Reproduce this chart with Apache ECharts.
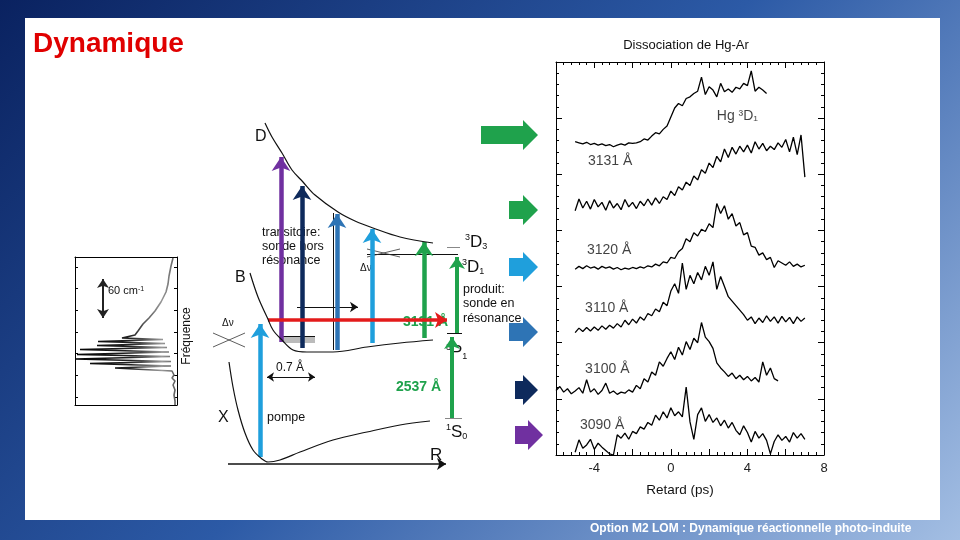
<!DOCTYPE html>
<html>
<head>
<meta charset="UTF-8">
<title>Dynamique</title>
<style>
  html, body { margin: 0; padding: 0; }
  body { width: 960px; height: 540px; background: linear-gradient(135deg, #0a2260 0%, #2c5aa6 50%, #a3bee3 100%); }
  #main { width: 960px; height: 540px; }
</style>
<script src="https://cdn.jsdelivr.net/npm/echarts@6/dist/echarts.min.js"></script>
</head>
<body>
<div id="main"></div>
<script>
// retard (ps) : grille commune des traces
var retard = [-6.0,-5.8,-5.6,-5.4,-5.2,-5.0,-4.8,-4.6,-4.4,-4.2,-4.0,-3.8,-3.6,-3.4,-3.2,-3.0,-2.8,-2.6,-2.4,-2.2,-2.0,-1.8,-1.6,-1.4,-1.2,-1.0,-0.8,-0.6,-0.4,-0.2,
  0.0,0.2,0.4,0.6,0.8,1.0,1.2,1.4,1.6,1.8,2.0,2.2,2.4,2.6,2.8,3.0,3.2,3.4,3.6,3.8,4.0,4.2,4.4,4.6,4.8,5.0,5.2,5.4,5.6,5.8,6.0,6.2,6.4,6.6,6.8,7.0];

// signaux (décalés verticalement)
var hgD1 = [null,null,null,null,null,
  5.58,5.56,5.54,5.57,5.53,5.55,5.52,5.54,5.51,5.53,5.49,5.52,5.54,5.52,5.56,5.55,5.56,5.58,5.63,5.61,5.68,5.74,5.72,5.80,5.86,
  6.02,6.18,6.26,6.22,6.35,6.38,6.44,6.48,6.73,6.42,6.56,6.50,6.38,6.62,6.47,6.52,6.46,6.55,6.52,6.62,6.58,6.84,6.48,6.55,6.50,6.44,
  null,null,null,null,null,null,null,null,null,null];
var s3131 = [null,null,null,null,null,
  4.35,4.56,4.40,4.52,4.38,4.55,4.42,4.50,4.36,4.53,4.40,4.48,4.37,4.55,4.42,4.50,4.39,4.52,4.44,4.56,4.45,4.58,4.48,4.60,4.55,
  4.70,4.62,4.78,4.72,4.86,4.80,4.97,4.90,5.08,5.02,5.20,5.12,5.32,5.22,5.45,5.30,5.48,5.36,5.50,5.40,5.52,5.38,5.58,5.45,5.55,5.42,5.50,5.44,5.56,5.48,5.62,5.40,5.66,5.35,5.70,4.95];
var s3120 = [null,null,null,null,null,
  3.31,3.36,3.32,3.37,3.33,3.35,3.31,3.36,3.33,3.35,3.31,3.34,3.30,3.33,3.31,3.34,3.32,3.35,3.33,3.37,3.35,3.40,3.37,3.44,3.42,
  3.52,3.50,3.62,3.68,3.85,3.80,3.96,3.90,4.02,3.98,4.12,4.05,4.48,4.30,4.44,4.20,4.30,4.08,4.14,3.92,3.96,3.72,3.70,3.56,3.60,3.48,3.52,3.34,3.46,3.42,3.38,3.44,3.36,3.40,3.35,3.38];
var s3110 = [null,null,null,null,null,
  2.18,2.26,2.20,2.27,2.21,2.28,2.22,2.30,2.24,2.31,2.26,2.34,2.28,2.40,2.32,2.42,2.35,2.46,2.40,2.52,2.48,2.60,2.55,2.72,2.66,
  2.92,3.05,2.88,3.42,2.95,3.20,3.05,3.25,3.12,3.36,3.20,3.44,2.95,3.18,3.00,2.82,2.74,2.66,2.58,2.50,2.40,2.46,2.34,2.44,2.36,2.48,2.38,2.46,2.35,2.47,2.37,2.45,2.34,2.46,2.38,2.44];
var s3100 = [1.15,1.22,1.12,1.18,1.09,1.14,1.20,1.10,1.34,1.12,1.18,1.08,1.15,1.28,1.10,1.14,1.08,1.12,1.10,1.16,1.12,1.24,1.18,1.36,1.30,1.48,1.42,1.66,1.58,1.72,
  1.84,1.70,1.92,1.78,2.02,1.88,2.08,2.00,2.36,2.10,2.02,1.90,1.64,1.55,1.48,1.40,1.46,1.36,1.42,1.34,1.40,1.32,1.38,1.30,1.66,1.42,1.55,1.36,1.32,
  null,null,null,null,null,null,null];
var s3090 = [null,null,null,null,null,
  0.05,0.27,0.12,0.18,0.28,0.10,0.21,0.14,0.08,0.02,0.00,0.36,0.30,0.39,0.28,0.42,0.38,0.50,0.46,0.58,0.53,0.71,0.62,0.77,0.66,
  0.84,0.70,0.77,0.68,1.21,0.59,0.28,0.72,0.84,0.60,0.72,0.58,0.66,0.52,0.62,0.48,0.58,0.44,0.36,0.52,0.40,0.23,0.42,0.30,0.38,0.26,0.02,0.24,0.36,0.26,0.33,0.23,0.40,0.30,0.38,0.28];

var traces = [hgD1, s3131, s3120, s3110, s3100, s3090];
var xTickLabels = [-4, 0, 4, 8];
var traceNoms = ['Hg ³D₁', '3131 Å', '3120 Å', '3110 Å', '3100 Å', '3090 Å'];
var nomX = [2.4, -4.33, -4.38, -4.48, -4.48, -4.75];
var nomY = [6.04, 5.24, 3.65, 2.62, 1.53, 0.53];

// schéma : R horizontal, énergie verticale (unités du schéma)
var courbeD = [[65,352],[72,338],[82,322],[92,305],[103,293],[115,280],[138,263],[155,254],[173,247],[200,238],[233,232]];
var courbeB = [[50,202],[58,178],[67,158],[73,145],[82,135],[93,125],[107,123],[133,123],[167,128],[200,132],[233,135]];
var courbeX = [[29,113],[33,88],[38,65],[45,42],[53,25],[62,16],[68,13],[80,15],[100,23],[133,35],[167,43],[200,50],[230,54]];
var sondeR = [81, 102, 137, 172, 224];
var sondeBas = [133, 127, 125, 132, 137];
var sondeHaut = [318, 289, 261, 246, 233];
var pompe = [[60,18],[60,151]];
var transD1 = [[257,142],[257,218]];
var trans2537 = [[252,57],[252,138]];
var sondeRouge = [[68,155],[247,155]];
var deplacement = [[97,168],[158,168]];
var axeR = [[28,11],[246,11]];
var largeur07 = [[67,98],[115,98]];
var niveaux = [[[167,221],[258,221]], [[247,228],[260,228]], [[247,142],[262,142]], [[245,57],[262,57]], [[133,262],[133,125]], [[83,139],[115,139]]];
var paquet = [[83,135],[115,135]];
var croixDv = [[[13,142],[45,128]], [[13,128],[45,142]], [[167,226],[200,218]], [[167,218],[200,226]]];

// encart : spectre (intensité vers la gauche, fréquence vers le haut)
var spectre = [[4,147],[6,139],[8,129],[9,121],[11,113],[16,103],[22,94],[28,87],[34,81],[39,74],[42,70],[55,67],[14,65.5],[79,63.5],[12,61.5],[80,59.5],[10,57.5],[97,55.5],[8,53],[100,50.5],[7,48.5],[101,46],[6,43.5],[87,41.5],[6,39],[62,37],[5,34],[3,30],[5,27],[2,24],[4,20],[2,15],[3,10],[2,4],[2,0]];
var fleche60 = [[74,126],[74,87]];
var encartTicks = [8, 30, 52, 73, 95, 117, 138];

var blocX0 = [481, 509, 509, 509, 515, 515];
var blocX1 = [538, 538, 538, 538, 538, 543];
var blocY = [135, 210, 267, 332, 390, 435];

var vert = '#1fa24c', bleuClair = '#1f9fdc', bleuMoyen = '#2e74b5', marine = '#0e2a5c', violet = '#7030a0', rouge = '#e31b1b';
var sondeCouleurs = [violet, marine, bleuMoyen, bleuClair, vert];
var blocCouleurs = [vert, vert, bleuClair, bleuMoyen, marine, violet];
var police = '"Liberation Sans", Arial, sans-serif';

var myChart = echarts.init(document.getElementById('main'));

function texte(x, y, t, taille, extra) {
  var st = { text: t, fill: '#111', fontSize: taille, fontFamily: police, verticalAlign: 'middle', align: 'left' };
  for (var k in extra) st[k] = extra[k];
  return { type: 'text', x: x, y: y, z: 1, silent: true, style: st };
}
var richNiveau = {
  s: { fontSize: 9, fontFamily: police, verticalAlign: 'top', fill: '#111' },
  b: { fontSize: 17, fontFamily: police, fill: '#111', lineHeight: 18 },
  u: { fontSize: 9, fontFamily: police, verticalAlign: 'bottom', fill: '#111' }
};

var graphics = [
  { type: 'rect', z: -10, silent: true, shape: { x: 25, y: 18, width: 915, height: 502 }, style: { fill: '#fff' } },
  texte(33, 44, 'Dynamique', 28, { fill: '#e00000', fontWeight: 'bold' }),
  texte(590, 529, 'Option M2 LOM : Dynamique réactionnelle photo-induite', 12, { fill: '#fff', fontWeight: 'bold', fontFamily: '"Liberation Sans Narrow", "Liberation Sans", sans-serif' }),
  texte(686, 45, 'Dissociation de Hg-Ar', 13, { align: 'center' }),
  texte(680, 490, 'Retard (ps)', 13.5, { align: 'center' }),
  texte(255, 137, 'D', 16),
  texte(235, 278, 'B', 16),
  texte(218, 418, 'X', 16),
  texte(430, 455, 'R', 17),
  texte(262, 226, 'transitoire:\nsonde hors\nrésonance', 12.5, { verticalAlign: 'top', lineHeight: 14 }),
  texte(463, 282, 'produit:\nsonde en\nrésonance', 12.5, { verticalAlign: 'top', lineHeight: 14.5 }),
  texte(465, 242, '{s|3}{b|D}{u|3}', 17, { rich: richNiveau }),
  texte(462, 267, '{s|3}{b|D}{u|1}', 17, { rich: richNiveau }),
  texte(446, 352, '{s|3}{b|P}{u|1}', 17, { rich: richNiveau }),
  texte(446, 432, '{s|1}{b|S}{u|0}', 17, { rich: richNiveau }),
  texte(403, 322, '3131 Å', 14, { fill: vert, fontWeight: 'bold' }),
  texte(396, 387, '2537 Å', 14, { fill: vert, fontWeight: 'bold' }),
  texte(276, 368, '0.7 Å', 12),
  texte(267, 418, 'pompe', 12.5),
  texte(222, 323, 'Δν', 10),
  texte(360, 268, 'Δν', 10),
  texte(108, 291, '60 cm{s|-1}', 11, { rich: { s: { fontSize: 7, verticalAlign: 'top', fontFamily: police, fill: '#111' } } }),
  { type: 'text', x: 187, y: 336, rotation: Math.PI / 2, z: 1, silent: true,
    style: { text: 'Fréquence', fill: '#111', fontSize: 12, fontFamily: police, align: 'center', verticalAlign: 'middle' } }
];
blocY.forEach(function (cy, i) {
  var x0 = blocX0[i], x1 = blocX1[i], tete = 15;
  graphics.push({ type: 'polygon', z: 1, silent: true, style: { fill: blocCouleurs[i] },
    shape: { points: [[x0, cy - 9], [x1 - tete, cy - 9], [x1 - tete, cy - 15], [x1, cy], [x1 - tete, cy + 15], [x1 - tete, cy + 9], [x0, cy + 9]] } });
});

var axeCadre = { onZero: false, lineStyle: { color: '#000', width: 1 } };
var tickDedans = { inside: true, length: 6, lineStyle: { color: '#000' } };
var mineur = { show: true, length: 3, lineStyle: { color: '#000' } };

var series = traces.map(function (t) {
  return {
    type: 'line', xAxisIndex: 0, yAxisIndex: 0, showSymbol: false, silent: true,
    lineStyle: { color: '#000', width: 1.3 },
    data: retard.map(function (x, i) { return [x, t[i]]; })
  };
});
series.push({
  type: 'scatter', xAxisIndex: 0, yAxisIndex: 0, symbolSize: 0, silent: true,
  label: { show: true, position: 'right', distance: 0, formatter: '{b}', fontSize: 14, color: '#111', fontFamily: police },
  data: traceNoms.map(function (n, i) { return { name: n, value: [nomX[i], nomY[i]] }; })
});

function courbe(d) {
  return { type: 'line', xAxisIndex: 2, yAxisIndex: 2, smooth: 0.35, showSymbol: false, silent: true,
    lineStyle: { color: '#111', width: 1.2 }, data: d };
}
series.push(courbe(courbeD), courbe(courbeB), courbe(courbeX));

function traits(data, couleurs, largeur, symb, taille) {
  return { type: 'lines', coordinateSystem: 'cartesian2d', xAxisIndex: 2, yAxisIndex: 2, silent: true,
    symbol: symb, symbolSize: taille, lineStyle: { width: largeur, opacity: 1, curveness: 0 },
    data: data.map(function (c, i) { return { coords: c, lineStyle: { color: couleurs[i] } }; }) };
}
series.push(traits(niveaux, ['#111', '#888', '#111', '#888', '#111', '#111'], 1, 'none', 0));
series.push(traits([paquet], ['#bbb'], 6, 'none', 0));
series.push(traits(croixDv, ['#333', '#333', '#333', '#333'], 0.8, 'none', 0));
series.push(traits([axeR], ['#111'], 1.5, ['none', 'arrow'], 9));
series.push(traits([largeur07], ['#111'], 1, ['arrow', 'arrow'], 7));
series.push(traits([deplacement], ['#111'], 1, ['none', 'arrow'], 8));
series.push(traits(sondeR.map(function (r, i) { return [[r, sondeBas[i]], [r, sondeHaut[i]]]; }), sondeCouleurs, 4.5, ['none', 'arrow'], 14));
series.push(traits([pompe], [bleuClair], 4.5, ['none', 'arrow'], 14));
series.push(traits([transD1, trans2537], [vert, vert], 4, ['none', 'arrow'], 12));
series.push(traits([sondeRouge], [rouge], 3.5, ['none', 'arrow'], 12));

series.push({
  type: 'line', xAxisIndex: 3, yAxisIndex: 3, showSymbol: false, silent: true,
  lineStyle: { width: 1.6, color: new echarts.graphic.LinearGradient(0, 0, 1, 0, [
    { offset: 0, color: '#000' }, { offset: 0.55, color: '#222' }, { offset: 0.85, color: '#999' }, { offset: 1, color: '#555' }]) },
  data: spectre
});
series.push({
  type: 'lines', coordinateSystem: 'cartesian2d', xAxisIndex: 3, yAxisIndex: 3, silent: true,
  symbol: ['arrow', 'arrow'], symbolSize: 9, lineStyle: { width: 2, opacity: 1, color: '#222' },
  data: [{ coords: fleche60 }]
});

var option = {
  backgroundColor: 'transparent',
  animation: false,
  graphic: graphics,
  grid: [
    { left: 556, top: 62, width: 268, height: 393 },
    { left: 200, top: 100, width: 350, height: 375 },
    { left: 75, top: 257, width: 102, height: 148 }
  ],
  xAxis: [
    { gridIndex: 0, type: 'value', min: -6, max: 8, interval: 2, position: 'bottom',
      axisLine: axeCadre, axisTick: tickDedans, minorTick: mineur, splitLine: { show: false },
      axisLabel: { margin: 7, fontSize: 13, color: '#222', fontFamily: police,
        formatter: function (v) { return xTickLabels.indexOf(v) >= 0 ? String(v) : ''; } } },
    { gridIndex: 0, type: 'value', min: -6, max: 8, interval: 2, position: 'top',
      axisLine: axeCadre, axisTick: tickDedans, minorTick: mineur, splitLine: { show: false }, axisLabel: { show: false } },
    { gridIndex: 1, type: 'value', min: 0, max: 350, show: false },
    { gridIndex: 2, type: 'value', min: 0, max: 102, inverse: true, position: 'bottom',
      axisLine: axeCadre, axisTick: { show: false }, axisLabel: { show: false }, splitLine: { show: false } },
    { gridIndex: 2, type: 'value', min: 0, max: 102, inverse: true, position: 'top',
      axisLine: axeCadre, axisTick: { show: false }, axisLabel: { show: false }, splitLine: { show: false } }
  ],
  yAxis: [
    { gridIndex: 0, type: 'value', min: 0, max: 7, interval: 1, position: 'left',
      axisLine: axeCadre, axisTick: tickDedans, minorTick: { show: true, splitNumber: 5, length: 3, lineStyle: { color: '#000' } },
      splitLine: { show: false }, axisLabel: { show: false } },
    { gridIndex: 0, type: 'value', min: 0, max: 7, interval: 1, position: 'right',
      axisLine: axeCadre, axisTick: tickDedans, minorTick: { show: true, splitNumber: 5, length: 3, lineStyle: { color: '#000' } },
      splitLine: { show: false }, axisLabel: { show: false } },
    { gridIndex: 1, type: 'value', min: 0, max: 375, show: false },
    { gridIndex: 2, type: 'value', min: 0, max: 148, position: 'left',
      axisLine: axeCadre, axisTick: { inside: true, length: 3, customValues: encartTicks, lineStyle: { color: '#000' } },
      splitLine: { show: false }, axisLabel: { show: false } },
    { gridIndex: 2, type: 'value', min: 0, max: 148, position: 'right',
      axisLine: axeCadre, axisTick: { inside: true, length: 3, customValues: encartTicks, lineStyle: { color: '#000' } },
      splitLine: { show: false }, axisLabel: { show: false } }
  ],
  series: series
};
myChart.setOption(option);
</script>
</body>
</html>
